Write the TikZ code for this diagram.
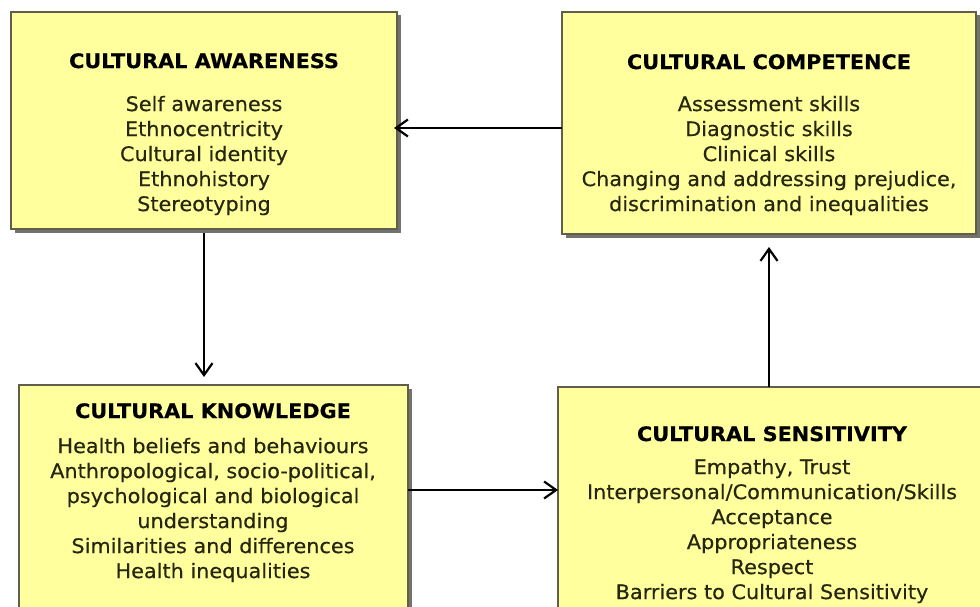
\documentclass[tikz,border=0pt]{standalone}
\usepackage{fontspec}
\setmainfont{DejaVu Sans}[FakeStretch=1.04, FakeBold=0.4]
\usetikzlibrary{arrows.meta,shadows}

\definecolor{boxfill}{RGB}{255,255,158}
\definecolor{boxline}{RGB}{95,95,75}
\definecolor{boxshade}{RGB}{115,115,110}
\definecolor{bodytext}{RGB}{38,38,12}
\newcommand{\boxtitle}[1]{{\bfseries\color{black}#1}}

\begin{document}
\begin{tikzpicture}[x=1pt, y=-1pt,
    every node/.style={font=\fontsize{20}{25}\selectfont},
    box/.style={draw=boxline, line width=1.5pt, fill=boxfill, rectangle,
      anchor=north west, inner sep=0pt, outer sep=0pt,
      drop shadow={shadow xshift=3.5pt, shadow yshift=-3.5pt,
        fill=boxshade, opacity=1}},
    boxtext/.style={anchor=north, align=center, inner sep=0pt, text=bodytext},
    flow/.style={line width=2pt, -{Straight Barb[length=12pt,width=17pt,line width=2.2pt]}}]
  \useasboundingbox (0,0) rectangle (980,607);

  \node[box, minimum width=386pt, minimum height=217pt] (aware) at ( 11,  12) {};
  \node[box, minimum width=414pt, minimum height=222pt] (comp)  at (562,  12) {};
  \node[box, minimum width=389pt, minimum height=240pt] (know)  at ( 19, 385) {};
  \node[box, minimum width=440pt, minimum height=240pt] (sens)  at (558, 387) {};

  \node[boxtext] (awaretext) at (204,  53) {\boxtitle{CULTURAL AWARENESS}\\[18pt]
    Self awareness\\ Ethnocentricity\\ Cultural identity\\ Ethnohistory\\ Stereotyping};
  \node[boxtext] (comptext)  at (769,  54) {\boxtitle{CULTURAL COMPETENCE}\\[17pt]
    Assessment skills\\ Diagnostic skills\\ Clinical skills\\
    Changing and addressing prejudice,\\ discrimination and inequalities};
  \node[boxtext] (knowtext)  at (213, 403) {\boxtitle{CULTURAL KNOWLEDGE}\\[10pt]
    Health beliefs and behaviours\\ Anthropological, socio-political,\\
    psychological and biological\\ understanding\\
    Similarities and differences\\ Health inequalities};
  \node[boxtext] (senstext)  at (772, 426) {\boxtitle{CULTURAL SENSITIVITY}\\[8pt]
    Empathy, Trust\\ Interpersonal/Communication/Skills\\ Acceptance\\
    Appropriateness\\ Respect\\ Barriers to Cultural Sensitivity};

  \draw[flow, shorten >=-3pt] ([yshift=-5pt]comp.west) -- ([yshift=-5pt]comp.west -| aware.east);
  \draw[flow, shorten <=4pt, shorten >=8pt] (aware.south) -- (aware.south |- know.north);
  \draw[flow] ([yshift=15pt]know.east) -- ([yshift=15pt]know.east -| sens.west);
  \draw[flow, shorten >=13pt] (comp.south |- sens.north) -- (comp.south);

\end{tikzpicture}
\end{document}
